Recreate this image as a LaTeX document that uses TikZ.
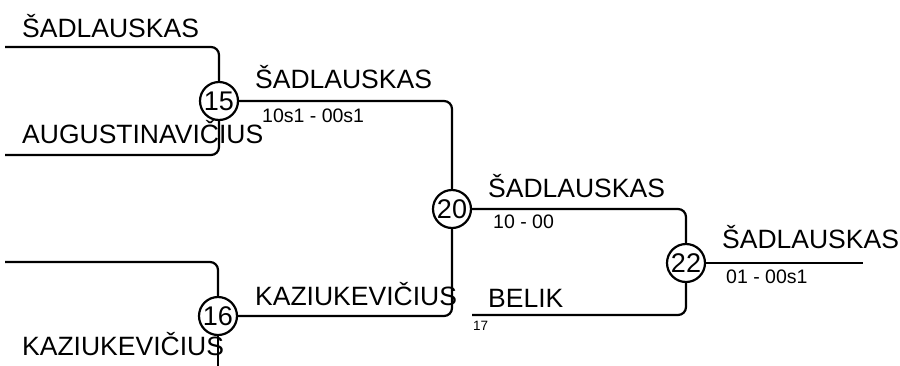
\documentclass[tikz,border=0pt]{standalone}
\usepackage{fontspec}
\setmainfont{Liberation Sans}
\begin{document}
\begin{tikzpicture}[x=1pt,y=-1pt,
  wire/.style={line width=2.2pt,rounded corners=8pt},
  seed/.style={circle,draw,line width=2.2pt,minimum size=38pt,inner sep=0pt,font=\fontsize{27}{30}\selectfont},
  player/.style={anchor=base west,inner sep=0pt,font=\fontsize{26.5}{30}\selectfont},
  score/.style={anchor=base west,inner sep=0pt,font=\fontsize{19.5}{22}\selectfont},
  tiny/.style={anchor=base west,inner sep=0pt,font=\fontsize{13.5}{15}\selectfont}]
\useasboundingbox (0,0) rectangle (900,365);
% matches
\node[seed] (c15) at (219,101) {15};
\node[seed] (c16) at (218,316) {16};
\node[seed] (c20) at (452,209) {20};
\node[seed] (c22) at (686,263) {22};
% free ends
\coordinate (a1) at (5,47);
\coordinate (a2) at (5,155);
\coordinate (b1) at (5,262);
\coordinate (b2) at (218,366);
\coordinate (d1) at (472,315);
\coordinate (e1) at (863,263);
% connectors
\draw[wire] (a1) -| (c15);
\draw[wire] (a2) -| (c15);
\draw[wire] (c15) -| (c20);
\draw[wire] (b1) -| (c16);
\draw[wire] (c16) -- (b2);
\draw[wire] (c16) -| (c20);
\draw[wire] (c20) -| (c22);
\draw[wire] (d1) -| (c22);
\draw[wire] (c22) -- (e1);
% labels
\node[player] (t1) at (22,37) {ŠADLAUSKAS};
\node[player] (t2) at (22,143) {AUGUSTINAVIČIUS};
\node[player] (t3) at (255,88) {ŠADLAUSKAS};
\node[score] (s1) at (262,122) {10s1 - 00s1};
\node[player] (t4) at (255,305) {KAZIUKEVIČIUS};
\node[player] (t5) at (22,355) {KAZIUKEVIČIUS};
\node[player] (t6) at (488,197) {ŠADLAUSKAS};
\node[score] (s2) at (493,228) {10 - 00};
\node[player] (t7) at (488,307) {BELIK};
\node[tiny] (s3) at (473,330) {17};
\node[player] (t8) at (722,248) {ŠADLAUSKAS};
\node[score] (s4) at (726,283) {01 - 00s1};
\end{tikzpicture}
\end{document}
